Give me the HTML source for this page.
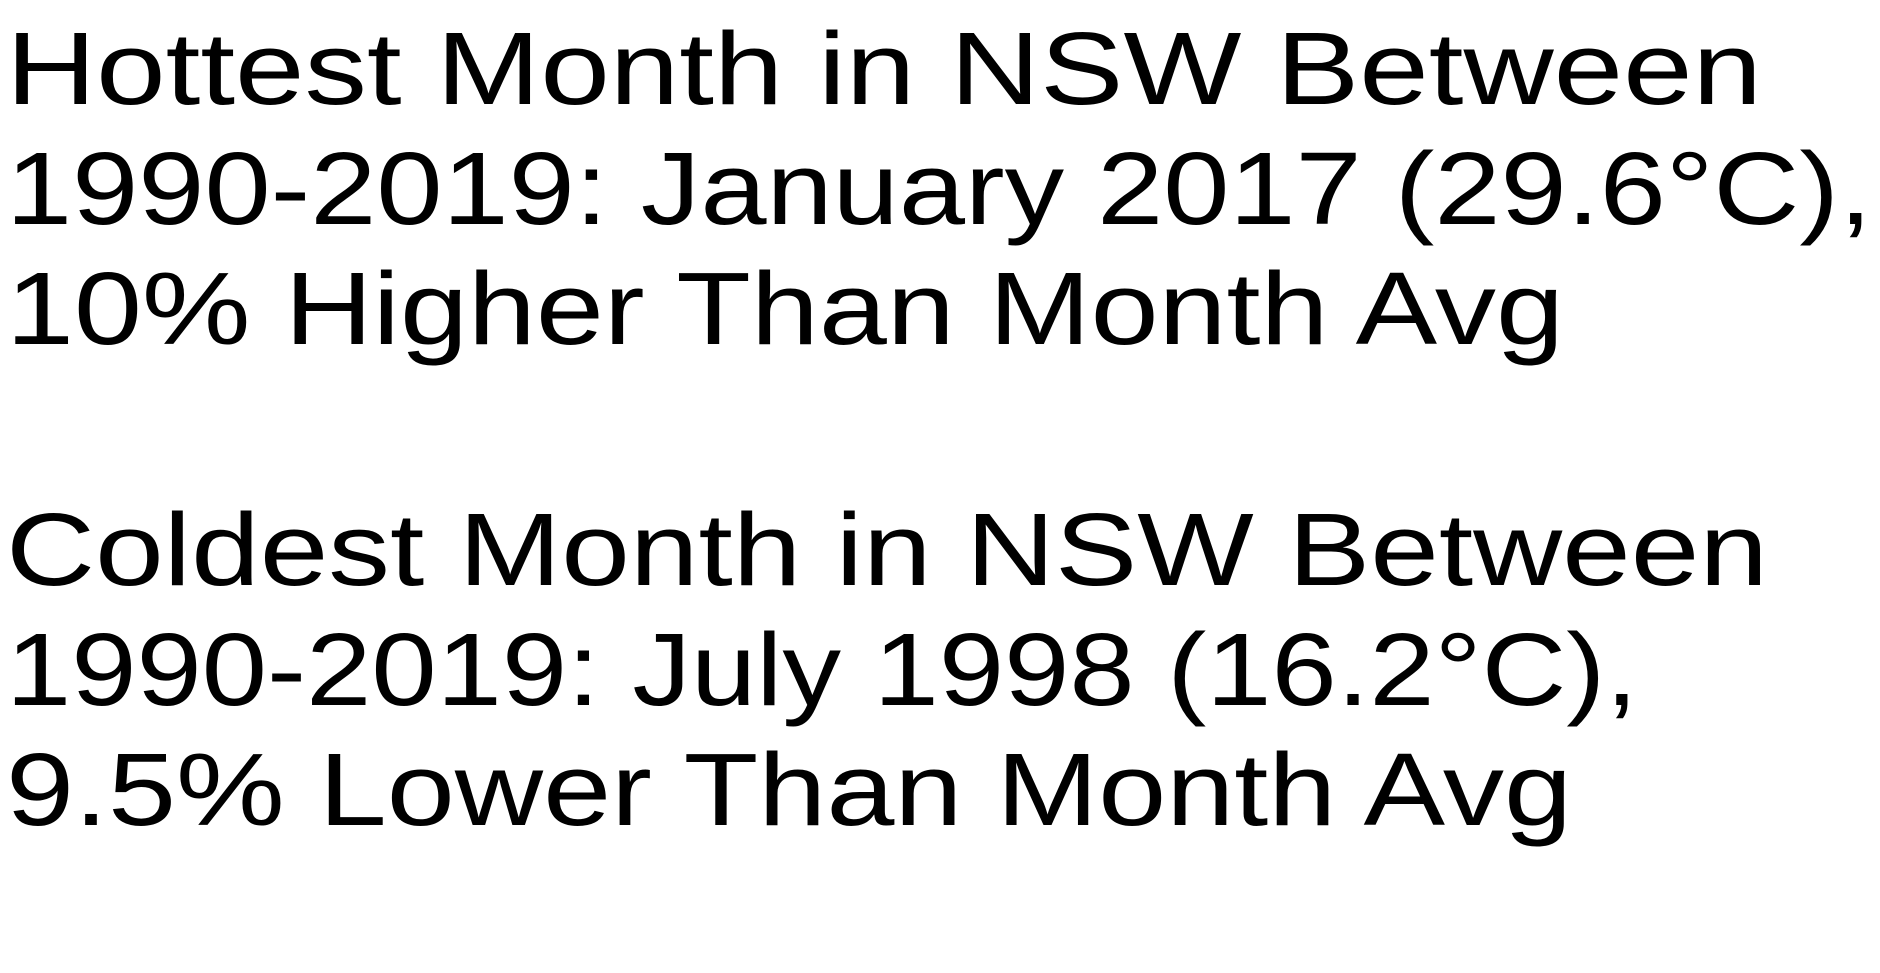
<!DOCTYPE html>
<html><head><meta charset="utf-8"><style>
html,body{margin:0;padding:0;background:#fff;width:1880px;height:973px;overflow:hidden}
svg text{font-family:"Liberation Sans",sans-serif;font-size:103px;fill:#000}
</style></head><body>
<svg width="1880" height="973">
<g>
<text x="6" y="104" textLength="1756" lengthAdjust="spacingAndGlyphs">Hottest Month in NSW Between</text>
<text x="6" y="224" textLength="1866" lengthAdjust="spacingAndGlyphs">1990-2019: January 2017 (29.6°C),</text>
<text x="6" y="344" textLength="1558" lengthAdjust="spacingAndGlyphs">10% Higher Than Month Avg</text>
</g>
<g>
<text x="6" y="585" textLength="1762" lengthAdjust="spacingAndGlyphs">Coldest Month in NSW Between</text>
<text x="6" y="705" textLength="1632" lengthAdjust="spacingAndGlyphs">1990-2019: July 1998 (16.2°C),</text>
<text x="6" y="825" textLength="1566" lengthAdjust="spacingAndGlyphs">9.5% Lower Than Month Avg</text>
</g>
</svg>
</body></html>
